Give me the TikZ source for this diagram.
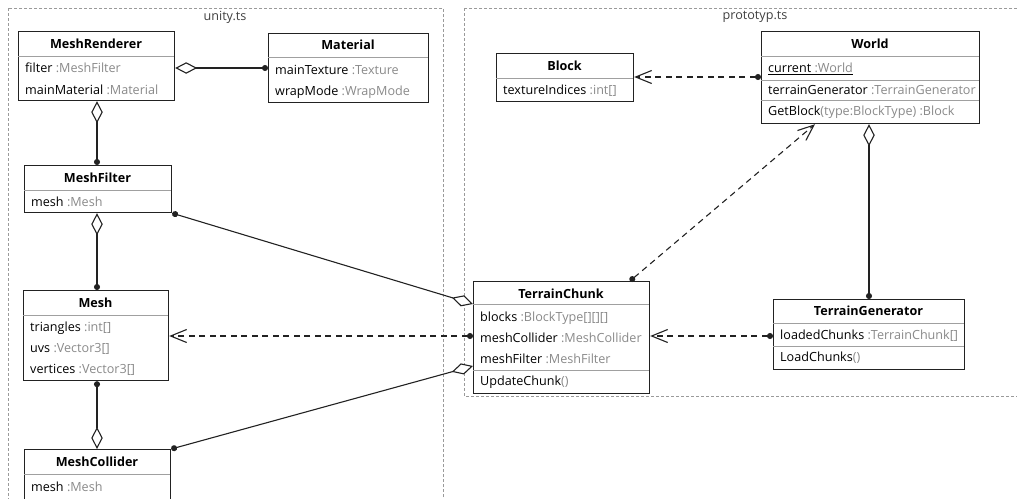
\documentclass[tikz,border=0pt]{standalone}
\usepackage{fontspec}
\setmainfont{Open Sans}
\usetikzlibrary{arrows.meta,calc}
\definecolor{typegray}{HTML}{8A8A8A}
\definecolor{pkggray}{HTML}{9A9A9A}
\definecolor{divgray}{HTML}{A0A0A0}
\definecolor{pkgtext}{HTML}{404040}
\definecolor{linegray}{HTML}{222222}
\newcommand{\tp}[1]{\textcolor{typegray}{#1}}
\begin{document}
\begin{tikzpicture}[x=1pt,y=-1pt,
  font=\fontsize{12.6}{14}\selectfont,
  cls/.style={draw=linegray, line width=1.2pt, inner sep=0pt, anchor=north west, fill=white},
  divline/.style={draw=divgray, line width=0.9pt},
  ctitle/.style={font=\fontsize{12.6}{14}\selectfont\bfseries, inner sep=0pt},
  attr/.style={anchor=west, inner sep=0pt},
  pkg/.style={draw=pkggray, line width=0.7pt, dash pattern=on 3pt off 2pt},
  pkglabel/.style={text=pkgtext, inner sep=0pt},
  conn/.style={draw=linegray, line width=1.1pt},
  agg/.style={conn, {Diamond[open,fill=white,length=22pt,width=11.5pt]}-{Circle[length=6pt]}},
  dep/.style={conn, dash pattern=on 6pt off 4.5pt, {Circle[length=6pt]}-{Straight Barb[length=16pt,width=13pt]}}
]
\useasboundingbox (0,0) rectangle (1017,498);

% packages
\draw[pkg] (8,8) rectangle (443,510);
\node[pkglabel] (unitylbl) at (225,17) {unity.ts};
\draw[pkg] (464,8) rectangle (1025,396);
\node[pkglabel] (protolbl) at (755,17) {prototyp.ts};

% MeshRenderer
\node[cls, minimum width=156pt, minimum height=69pt] (mr) at (18,31) {};
\draw[divline] (18,56) -- (174,56);
\node[ctitle] (mrT) at (96,44) {MeshRenderer};
\node[attr] (mrA) at (25,68) {filter \tp{:MeshFilter}};
\node[attr] (mrB) at (25,90) {mainMaterial \tp{:Material}};

% Material
\node[cls, minimum width=160pt, minimum height=69pt] (mt) at (268,33) {};
\draw[divline] (268,57) -- (428,57);
\node[ctitle] (mtT) at (348,45) {Material};
\node[attr] (mtA) at (275,70) {mainTexture \tp{:Texture}};
\node[attr] (mtB) at (275,92) {wrapMode \tp{:WrapMode}};

% MeshFilter
\node[cls, minimum width=147pt, minimum height=47pt] (mf) at (24,165) {};
\draw[divline] (24,190) -- (171,190);
\node[ctitle] (mfT) at (97.5,178) {MeshFilter};
\node[attr] (mfA) at (31,202) {mesh \tp{:Mesh}};

% Mesh
\node[cls, minimum width=145pt, minimum height=90pt] (mesh) at (23,290) {};
\draw[divline] (23,315) -- (168,315);
\node[ctitle] (meshT) at (95.5,303) {Mesh};
\node[attr] (meshA) at (30,328) {triangles \tp{:int[]}};
\node[attr] (meshB) at (30,349) {uvs \tp{:Vector3[]}};
\node[attr] (meshC) at (30,370) {vertices \tp{:Vector3[]}};

% MeshCollider
\node[cls, minimum width=146pt, minimum height=60pt] (mc) at (24,449) {};
\draw[divline] (24,474) -- (170,474);
\node[ctitle] (mcT) at (97,462) {MeshCollider};
\node[attr] (mcA) at (31,487) {mesh \tp{:Mesh}};

% Block
\node[cls, minimum width=137pt, minimum height=48pt] (block) at (496,53) {};
\draw[divline] (496,78) -- (633,78);
\node[ctitle] (blockT) at (564.5,66) {Block};
\node[attr] (blockA) at (503,91) {textureIndices \tp{:int[]}};

% World
\node[cls, minimum width=218pt, minimum height=92pt] (world) at (761,31) {};
\draw[divline] (761,56) -- (979,56);
\draw[divline] (761,80) -- (979,80);
\draw[divline] (761,100) -- (979,100);
\node[ctitle] (worldT) at (870,44) {World};
\node[attr] (worldA) at (768,69) {\underline{current \tp{:World}}};
\node[attr] (worldB) at (768,90) {terrainGenerator \tp{:TerrainGenerator}};
\node[attr] (worldC) at (768,112) {GetBlock\tp{(type:BlockType) :Block}};

% TerrainChunk
\node[cls, minimum width=176pt, minimum height=112pt] (tc) at (473,281) {};
\draw[divline] (473,304) -- (649,304);
\draw[divline] (473,370) -- (649,370);
\node[ctitle] (tcT) at (561,294) {TerrainChunk};
\node[attr] (tcA) at (480,318) {blocks \tp{:BlockType[][][]}};
\node[attr] (tcB) at (480,338) {meshCollider \tp{:MeshCollider}};
\node[attr] (tcC) at (480,359) {meshFilter \tp{:MeshFilter}};
\node[attr] (tcD) at (480,382) {UpdateChunk\tp{()}};

% TerrainGenerator
\node[cls, minimum width=191pt, minimum height=70pt] (tg) at (773,299) {};
\draw[divline] (773,323) -- (964,323);
\draw[divline] (773,346) -- (964,346);
\node[ctitle] (tgT) at (868.5,311) {TerrainGenerator};
\node[attr] (tgA) at (780,336) {loadedChunks \tp{:TerrainChunk[]}};
\node[attr] (tgB) at (780,358) {LoadChunks\tp{()}};

% connectors
\draw[agg] (mr.east |- 0,68) -- (mt.west |- 0,68);
\draw[agg] (mr.south -| 97,0) -- (mf.north -| 97,0);
\draw[agg] (mf.south -| 97,0) -- (mesh.north -| 97,0);
\draw[agg] (mc.north -| 97,0) -- (mesh.south -| 97,0);
\draw[agg] (tc.west |- 0,304) -- (mf.south east);
\draw[agg] (tc.west |- 0,366) -- (mc.north east);
\draw[agg] (world.south -| 869,0) -- (tg.north -| 869,0);

\draw[dep] (tc.west |- 0,336) -- (mesh.east |- 0,336);
\draw[dep] (world.west |- 0,77) -- (block.east |- 0,77);
\draw[dep] (tc.north -| 630,0) -- (world.south -| 815,0);
\draw[dep] (tg.west |- 0,336) -- (tc.east |- 0,336);
\end{tikzpicture}
\end{document}
